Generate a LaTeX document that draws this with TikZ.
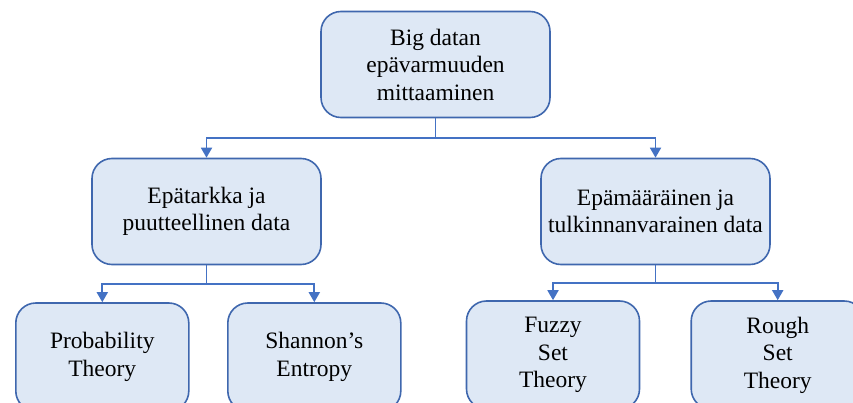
\documentclass[tikz,border=0pt]{standalone}
\usepackage{fontspec}
\setmainfont{Liberation Serif}
\usetikzlibrary{arrows.meta,calc}
\definecolor{boxfill}{HTML}{DEE8F5}
\definecolor{boxline}{HTML}{3F67AE}
\definecolor{linkline}{HTML}{4472C4}
\tikzset{
  box/.style={draw=boxline, fill=boxfill, line width=1.6pt, rounded corners=20pt,
    align=center, inner sep=0pt, font=\fontsize{23.5}{27.5}\selectfont},
  wide/.style={box, minimum width=229pt, minimum height=106pt},
  leaf/.style={box, minimum width=173pt, minimum height=108pt},
  link/.style={draw=linkline, line width=1.8pt,
    -{Triangle[width=11pt,length=10pt]}}
}
\begin{document}
\begin{tikzpicture}[x=1pt,y=-1pt]
  \useasboundingbox (0,0) rectangle (853,403);
  \clip (0,0) rectangle (853,403);

  % tree of boxes
  \node[wide] (root) at (435.5,64.5) {Big datan\\epävarmuuden\\mittaaminen};
  \node[wide] (imp) at (206.5,211.5) {Epätarkka ja\\puutteellinen data};
  \node[wide] (vag) at (655.5,211.5) {Epämääräinen ja\\tulkinnanvarainen data};
  \node[leaf] (prob) at (102.3,357) {Probability\\Theory};
  \node[leaf] (shan) at (314.3,357) {Shannon’s\\Entropy};
  \node[leaf] (fuzz) at (553,355) {Fuzzy\\Set\\Theory};
  \node[leaf] (rough) at (777.7,355) {Rough\\Set\\Theory};

  % elbow connectors
  \draw[link] (root.south) |- ($(root.south)!.5!(imp.north)$) -| (imp.north);
  \draw[link] (root.south) |- ($(root.south)!.5!(vag.north)$) -| (vag.north);
  \draw[link] (imp.south) |- ($(imp.south)!.5!(prob.north)$) -| (prob.north);
  \draw[link] (imp.south) |- ($(imp.south)!.5!(shan.north)$) -| (shan.north);
  \draw[link] (vag.south) |- ($(vag.south)!.5!(fuzz.north)$) -| (fuzz.north);
  \draw[link] (vag.south) |- ($(vag.south)!.5!(rough.north)$) -| (rough.north);
\end{tikzpicture}
\end{document}
